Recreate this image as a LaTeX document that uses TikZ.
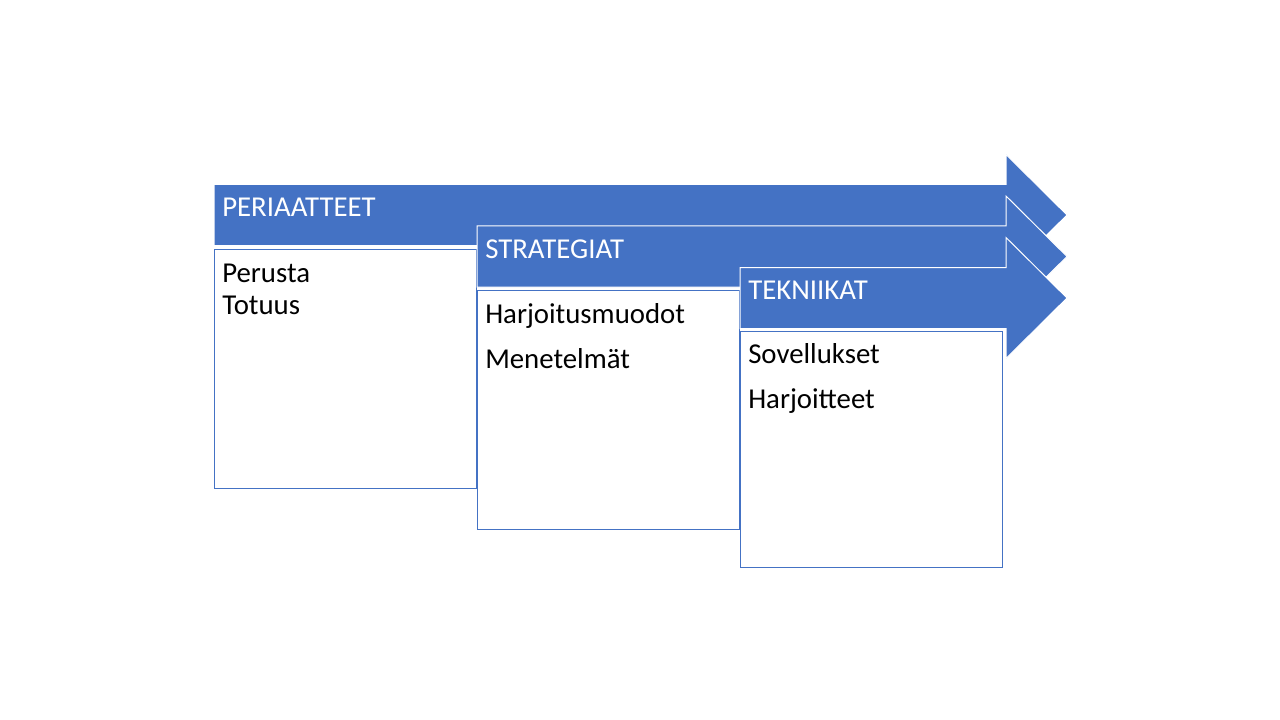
\documentclass[tikz,border=0pt]{standalone}
\usepackage{fontspec}
\setmainfont{Carlito}
\definecolor{acc}{HTML}{4472C4}
\tikzset{
  arrowshape/.style={fill=acc, draw=white, line width=0.75pt, line join=miter},
  boxshape/.style={draw=acc, fill=white, line width=0.75pt},
  headtxt/.style={anchor=base west, text=white, font=\fontsize{21.6}{26}\selectfont, inner sep=0pt},
  bodytxt/.style={anchor=base west, text=black, font=\fontsize{21.6}{26}\selectfont, inner sep=0pt},
}
\newcommand\myarrow[2]{%
  \path[arrowshape] (#1,#2-30.5) -- (1006,#2-30.5) -- (1006,#2-60.5) -- (1067,#2)
    -- (1006,#2+60.5) -- (1006,#2+30.5) -- (#1,#2+30.5) -- cycle;}
\begin{document}
\begin{tikzpicture}[x=0.75pt,y=-0.75pt]
\path[fill=white,use as bounding box] (0,0) rectangle (1280,720);
% arrow 1 and box 1
\myarrow{214}{215}
\path[boxshape] (214,249) rectangle (476,488);
\node[headtxt] (h1) at (222,217) {PERIAATTEET};
\node[bodytxt] (p1) at (222,282) {Perusta};
\node[bodytxt] (p2) at (222,314) {Totuus};
% arrow 2 and box 2
\myarrow{477}{256.5}
\path[boxshape] (477,290) rectangle (739,529);
\node[headtxt] (h2) at (485,258) {STRATEGIAT};
\node[bodytxt] (s1) at (485,323) {Harjoitusmuodot};
\node[bodytxt] (s2) at (485,368) {Menetelmät};
% arrow 3 and box 3
\myarrow{740}{298}
\path[boxshape] (740,331) rectangle (1002,567);
\node[headtxt] (h3) at (748,299) {TEKNIIKAT};
\node[bodytxt] (t1) at (748,363) {Sovellukset};
\node[bodytxt] (t2) at (748,408) {Harjoitteet};
\end{tikzpicture}
\end{document}
